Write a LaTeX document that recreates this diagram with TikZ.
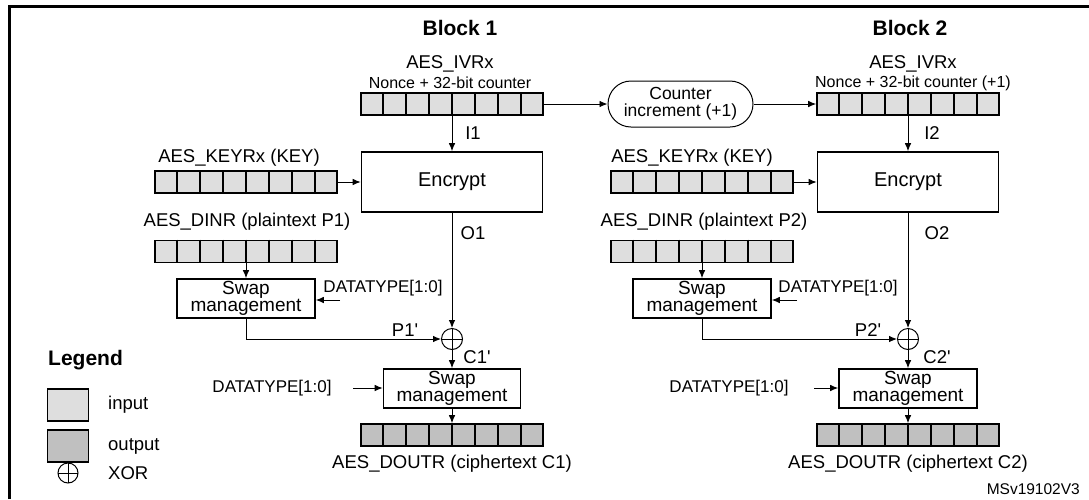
\documentclass[tikz,border=0pt]{standalone}
\usepackage{fontspec}
\setmainfont{Liberation Sans}
\usepackage{tikz}
\usetikzlibrary{arrows.meta,calc}
\definecolor{infill}{RGB}{222,222,222}
\definecolor{outfill}{RGB}{192,192,192}
\tikzset{
  reg/.style = {draw,line width=1.6pt,fill=#1,minimum width=182pt,minimum height=22pt,inner sep=0pt},
  opbox/.style = {draw,line width=1.6pt,fill=white,inner sep=0pt,align=center,font=\fontsize{19}{16}\selectfont},
  conn/.style = {line width=0.9pt,-{Latex[length=8pt,width=6.5pt]}},
  txt/.style = {inner sep=0pt},
  small/.style = {txt,font=\fontsize{16}{16}\selectfont},
  dtype/.style = {txt,font=\fontsize{17}{17}\selectfont},
  heading/.style = {txt,font=\bfseries\fontsize{21}{21}\selectfont},
  xorsym/.style = {circle,draw,line width=1pt,minimum size=21pt,inner sep=0pt,
    path picture={\draw[line width=1pt] (path picture bounding box.north) -- (path picture bounding box.south)
      (path picture bounding box.west) -- (path picture bounding box.east);}}
}
\NewDocumentCommand{\regcells}{O{infill} m m}{%
\node[reg=#1] (#2) at (#3) {};
\foreach \k in {1,...,7}
  \draw[line width=1.6pt] ($(#2.north west)!\k/8!(#2.north east)$) -- ($(#2.south west)!\k/8!(#2.south east)$);
}

\begin{document}
\begin{tikzpicture}[x=1pt,y=-1pt,font=\fontsize{18.5}{17}\selectfont]
\useasboundingbox (0,0) rectangle (1089,499);
\draw[line width=2.3pt] (9.6,499) -- (9.6,6.4) -- (1089,6.4);

% block 1
\node[heading] (blkA) at (460,28) {Block 1};
\node[txt] (ivrAlbl) at (450,64) {AES\_IVRx};
\node[small] (ivrAsub) at (450,83) {Nonce + 32-bit counter};
\regcells{ivrA}{452,104}
\node[opbox,font=\fontsize{20}{17}\selectfont,minimum width=181pt,minimum height=60pt] (encA) at (452,182) {Encrypt};
\node[txt] (keyAlbl) at (239,158) {AES\_KEYRx (KEY)};
\regcells{keyA}{246,182}
\node[txt] (dinrAlbl) at (247,222) {AES\_DINR (plaintext P1)};
\regcells{dinrA}{246,251.5}
\node[opbox,minimum width=138pt,minimum height=39pt] (swpA) at (246,298.5) {Swap\\management};
\node[dtype] (dtAlbl) at (383,288) {DATATYPE[1:0]};
\coordinate (dtAin) at (340,300);
\node[xorsym] (xorA) at (452,339) {};
\node[opbox,minimum width=137pt,minimum height=39pt] (swpA2) at (452,388.5) {Swap\\management};
\node[dtype] (dtA2lbl) at (272,388) {DATATYPE[1:0]};
\coordinate (dtA2in) at (353,388);
\regcells[outfill]{doutA}{452,435}
\node[txt] (doutAlbl) at (452,464) {AES\_DOUTR (ciphertext C1)};
\node[txt] (iA) at (473,133) {I1};
\node[txt] (oA) at (473,233) {O1};
\node[txt] (pA) at (405,330) {P1\textquotesingle};
\node[txt] (cA) at (477,357) {C1\textquotesingle};

\draw[conn] (ivrA) -- (encA);
\draw[conn] (keyA) -- (encA);
\draw[conn] (dinrA) -- (swpA);
\draw[conn] (dtAin) -- (dtAin -| swpA.east);
\draw[conn] (encA) -- (xorA);
\draw[conn] (swpA.south) |- (xorA.west);
\draw[conn] (xorA) -- (swpA2);
\draw[conn] (dtA2in) -- (dtA2in -| swpA2.west);
\draw[conn] (swpA2) -- (doutA);

% counter
\node[opbox,line width=1pt,rounded corners=23pt,minimum width=145pt,minimum height=46pt,font=\fontsize{17.5}{17}\selectfont] (cntr) at (680.5,104) {Counter\\increment (+1)};

% block 2
\node[heading] (blkB) at (910,28) {Block 2};
\node[txt] (ivrBlbl) at (913,64) {AES\_IVRx};
\node[small] (ivrBsub) at (913,83) {Nonce + 32-bit counter (+1)};
\regcells{ivrB}{908,104}
\node[opbox,font=\fontsize{20}{17}\selectfont,minimum width=181pt,minimum height=60pt] (encB) at (908,182) {Encrypt};
\node[txt] (keyBlbl) at (692,158) {AES\_KEYRx (KEY)};
\regcells{keyB}{702,182}
\node[txt] (dinrBlbl) at (704,222) {AES\_DINR (plaintext P2)};
\regcells{dinrB}{702,251.5}
\node[opbox,minimum width=138pt,minimum height=39pt] (swpB) at (702,298.5) {Swap\\management};
\node[dtype] (dtBlbl) at (838,288) {DATATYPE[1:0]};
\coordinate (dtBin) at (797,300);
\node[xorsym] (xorB) at (908,339) {};
\node[opbox,minimum width=138pt,minimum height=39pt] (swpB2) at (908,388.5) {Swap\\management};
\node[dtype] (dtB2lbl) at (729,388) {DATATYPE[1:0]};
\coordinate (dtB2in) at (814,388);
\regcells[outfill]{doutB}{908,435}
\node[txt] (doutBlbl) at (908,464) {AES\_DOUTR (ciphertext C2)};
\node[txt] (iB) at (932,133) {I2};
\node[txt] (oB) at (937,233) {O2};
\node[txt] (pB) at (868,330) {P2\textquotesingle};
\node[txt] (cB) at (937,357) {C2\textquotesingle};

\draw[conn] (ivrA) -- (cntr);
\draw[conn] (cntr) -- (ivrB);
\draw[conn] (ivrB) -- (encB);
\draw[conn] (keyB) -- (encB);
\draw[conn] (dinrB) -- (swpB);
\draw[conn] (dtBin) -- (dtBin -| swpB.east);
\draw[conn] (encB) -- (xorB);
\draw[conn] (swpB.south) |- (xorB.west);
\draw[conn] (xorB) -- (swpB2);
\draw[conn] (dtB2in) -- (dtB2in -| swpB2.west);
\draw[conn] (swpB2) -- (doutB);

% legend
\node[heading,anchor=west] (lgd) at (48,360) {Legend};
\node[reg=infill,minimum width=41pt,minimum height=32pt] (lgin) at (68,405) {};
\node[txt,anchor=west] (lginlbl) at (108,405) {input};
\node[reg=outfill,minimum width=41pt,minimum height=32pt] (lgout) at (68,446) {};
\node[txt,anchor=west] (lgoutlbl) at (108,446) {output};
\node[xorsym,minimum size=20pt] (lgxor) at (68,473) {};
\node[txt,anchor=west] (lgxorlbl) at (108,473) {XOR};

\node[txt,anchor=east,font=\fontsize{15.5}{15}\selectfont] (docid) at (1080,489) {MSv19102V3};
\end{tikzpicture}
\end{document}
